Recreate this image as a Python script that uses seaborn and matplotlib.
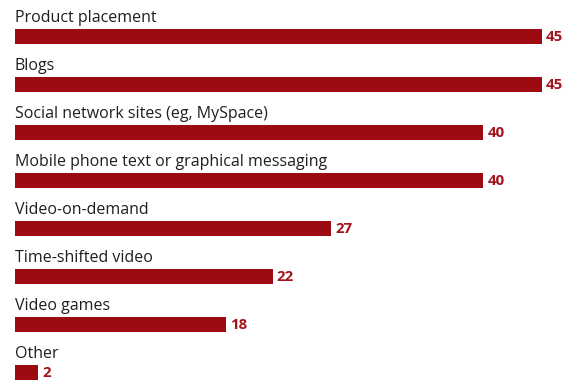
import matplotlib
matplotlib.use("Agg")
import matplotlib.pyplot as plt
import seaborn as sns
import pandas as pd

categories = ["Product placement", "Blogs", "Social network sites (eg, MySpace)",
              "Mobile phone text or graphical messaging", "Video-on-demand",
              "Time-shifted video", "Video games", "Other"]
values = [45, 45, 40, 40, 27, 22, 18, 2]

sns.set_style("white")
plt.rcParams['font.family'] = ['Open Sans', 'DejaVu Sans']

df = pd.DataFrame({"cat": categories, "val": values})
fig = plt.figure(figsize=(5.77, 3.81), dpi=100)
ax = fig.add_axes([0, 0, 1, 1])
bar_color = "#9c0a12"
sns.barplot(data=df, y="cat", x="val", orient="h", color=bar_color,
            width=0.30, saturation=1, linewidth=0, ax=ax)

for i, (c, v) in enumerate(zip(categories, values)):
    ax.text(0, i - 0.31, c, ha="left", va="baseline", fontsize=11.5, color="#1f1f1f")
    ax.text(v + 0.35, i + 0.02, str(v), ha="left", va="center", fontsize=10.8,
            fontweight="bold", color="#a3131b")

ax.set_xlim(-15 / 11.71, (577 - 15) / 11.71)
ax.set_ylim((381 - 36.5) / 48, -36.5 / 48)
ax.set_axis_off()
fig.savefig("out.png", dpi=100)
